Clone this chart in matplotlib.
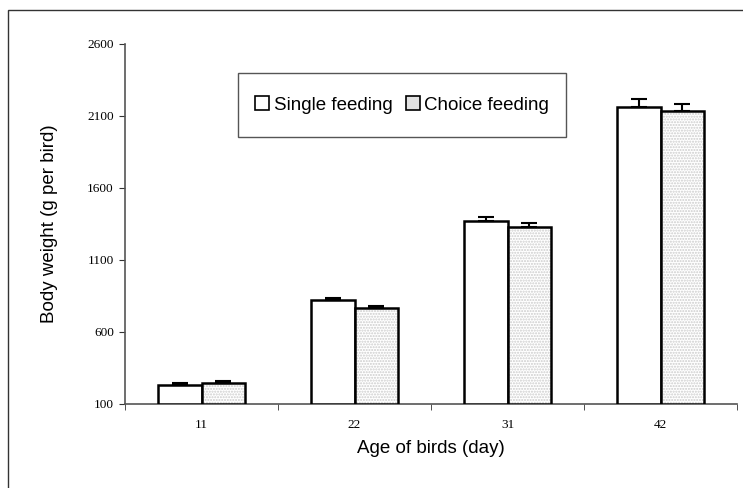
import matplotlib
matplotlib.use("Agg")
import matplotlib.pyplot as plt
from matplotlib.patches import Patch, Rectangle
import numpy as np

categories = ["11", "22", "31", "42"]
single = [234, 820, 1369, 2165]
single_err = [15, 16, 28, 53]
choice = [246, 767, 1329, 2137]
choice_err = [16, 16, 28, 44]
yticks = [100, 600, 1100, 1600, 2100, 2600]

W, H = 743, 488
fig = plt.figure(figsize=(W/100, H/100), dpi=100)
ax = fig.add_axes([125/W, (H-404)/H, (737-125)/W, (404-44)/H])

# outer frame
fig.patches.append(Rectangle((8/W, -0.1), 1.2, (H-10)/H + 0.1, transform=fig.transFigure,
                             fill=False, edgecolor="#333333", linewidth=1.0))

x = np.arange(len(categories))
bw = 0.285
base = 100
sh = np.array(single) - base
ch = np.array(choice) - base

ax.bar(x - bw/2, sh, bw, bottom=base, facecolor="white", edgecolor="black", linewidth=1.8, zorder=3)
ax.bar(x + bw/2, ch, bw, bottom=base, facecolor="white", edgecolor="#cccccc", hatch="......",
       linewidth=0, zorder=3)
ax.bar(x + bw/2, ch, bw, bottom=base, fill=False, edgecolor="black", linewidth=1.8, zorder=4)

ax.errorbar(x - bw/2, single, yerr=[np.zeros(4), single_err], fmt="none", ecolor="black",
            elinewidth=1.5, capsize=6, capthick=1.5, zorder=5)
ax.errorbar(x + bw/2, choice, yerr=[np.zeros(4), choice_err], fmt="none", ecolor="black",
            elinewidth=1.5, capsize=6, capthick=1.5, zorder=5)

ax.set_xlim(-0.5, len(categories) - 0.5)
ax.set_ylim(100, 2600)
ax.set_yticks(yticks)
ax.set_yticklabels([str(v) for v in yticks], fontfamily="Liberation Serif", fontsize=9.5)
ax.set_xticks(x)
ax.set_xticklabels(categories, fontfamily="Liberation Serif", fontsize=9.5)
ax.tick_params(axis="x", which="major", length=0, pad=11)
ax.set_xticks(np.arange(-0.5, len(categories)), minor=True)
ax.tick_params(axis="x", which="minor", length=4, direction="out", color="#333333")
ax.tick_params(axis="y", length=4, direction="out", color="#333333", pad=4)

for s in ["top", "right"]:
    ax.spines[s].set_visible(False)
for s in ["left", "bottom"]:
    ax.spines[s].set_color("#555555")
    ax.spines[s].set_linewidth(1.2)

ax.set_ylabel("Body weight (g per bird)", fontfamily="Liberation Sans", fontsize=13.5, labelpad=21)
ax.set_xlabel("Age of birds (day)", fontfamily="Liberation Sans", fontsize=13.5, labelpad=6)

# legend box
bx0, bx1, by0, by1 = 238, 566, 73, 137
fig.patches.append(Rectangle((bx0/W, 1 - by1/H), (bx1-bx0)/W, (by1-by0)/H,
                             transform=fig.transFigure, facecolor="white",
                             edgecolor="#555555", linewidth=1.0, zorder=5))
handles = [Patch(facecolor="white", edgecolor="black", linewidth=1.2),
           Patch(facecolor="#e2e2e2", edgecolor="black", linewidth=1.2)]
leg = fig.legend(handles, ["Single feeding", "Choice feeding"], ncol=2,
                 loc="center", bbox_to_anchor=((bx0+bx1)/2/W, 1 - (by0+by1)/2/H),
                 prop={"family": "Liberation Sans", "size": 13.5},
                 frameon=False, handlelength=0.75, handleheight=0.75,
                 handletextpad=0.25, columnspacing=0.7, borderaxespad=0)
leg.set_zorder(6)

fig.savefig("out.png", dpi=100)
